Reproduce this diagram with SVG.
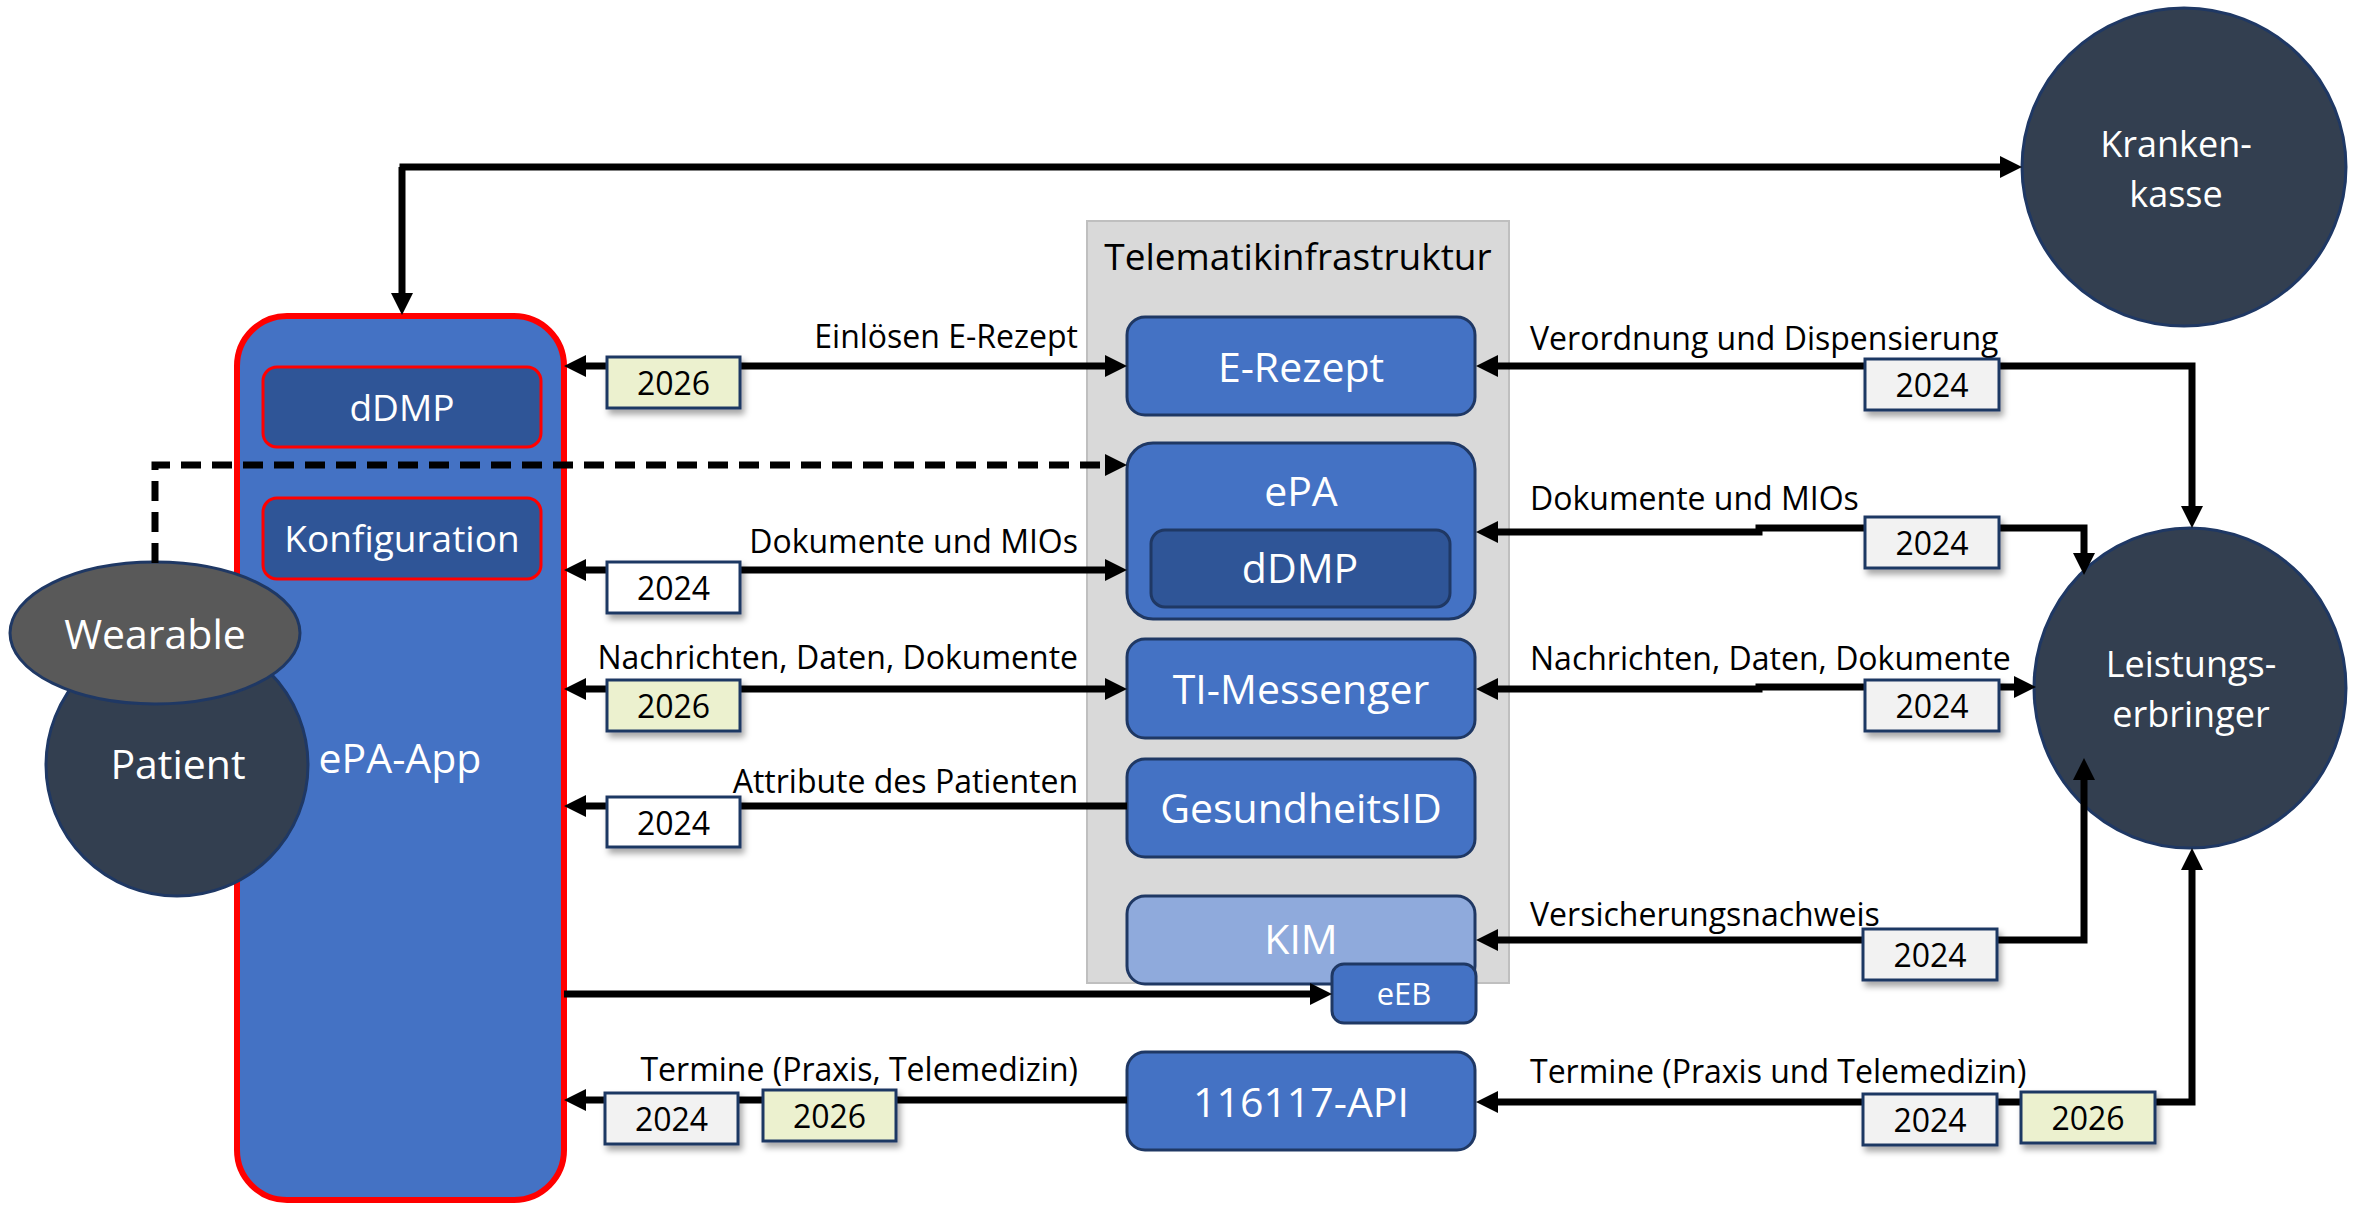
<svg xmlns="http://www.w3.org/2000/svg" width="2354" height="1205" viewBox="0 0 2354 1205">
  <defs>
    <style>
      .t { font-family: "Open Sans", "Noto Sans", "Liberation Sans", sans-serif; }
      .wl { fill: #FFFFFF; text-anchor: middle; }
      .box { fill: #4472C4; stroke: #1F3864; stroke-width: 3; }
      .sub { fill: #2F5597; stroke: #1F3864; stroke-width: 3; }
      .appsub { fill: #2F5597; stroke: #FF0000; stroke-width: 3; }
      .actor { fill: #333F50; stroke: #1F3864; stroke-width: 3; }
      .lbl { fill: #000000; font-size: 32px; }
      .lbl-l { text-anchor: end; }
      .lbl-r { text-anchor: start; }
      .line { fill: none; stroke: #000000; stroke-width: 7; stroke-linejoin: miter; }
      .badge { stroke: #1F3864; stroke-width: 3; filter: url(#shadow); }
      .b24 { fill: #F2F2F2; }
      .b24w { fill: #FFFFFF; }
      .b26 { fill: #ECF1CF; }
      .btxt { fill: #000000; font-size: 32px; text-anchor: middle; }
    </style>
    <marker id="ah" markerUnits="userSpaceOnUse" markerWidth="24" markerHeight="24" refX="0" refY="12" orient="auto-start-reverse" overflow="visible">
      <path d="M0,1 L22,12 L0,23 Z" fill="#000000"/>
    </marker>
    <filter id="shadow" x="-20%" y="-30%" width="150%" height="170%">
      <feDropShadow dx="3" dy="5" stdDeviation="3" flood-color="#000000" flood-opacity="0.35"/>
    </filter>
  </defs>

  <rect width="2354" height="1205" fill="#FFFFFF"/>

  <!-- Telematikinfrastruktur container -->
  <g id="ti">
    <rect x="1087" y="221" width="422" height="762" fill="#D9D9D9" stroke="#BFBFBF" stroke-width="2"/>
    <text class="t" x="1298" y="270" font-size="37" text-anchor="middle" fill="#000000">Telematikinfrastruktur</text>
  </g>

  <!-- ePA-App -->
  <g id="epa-app">
    <rect x="237" y="316" width="327" height="884" rx="50" fill="#4472C4" stroke="#FF0000" stroke-width="6"/>
    <text class="t wl" x="400" y="773" font-size="41">ePA-App</text>
  </g>
  <g id="app-ddmp">
    <rect class="appsub" x="263" y="367" width="278" height="80" rx="14"/>
    <text class="t wl" x="402" y="421" font-size="37">dDMP</text>
  </g>
  <g id="app-konfiguration">
    <rect class="appsub" x="263" y="498" width="278" height="81" rx="14"/>
    <text class="t wl" x="402" y="552" font-size="37">Konfiguration</text>
  </g>

  <!-- Patient and Wearable -->
  <g id="patient">
    <circle class="actor" cx="177" cy="765" r="131"/>
    <text class="t wl" x="178" y="779" font-size="41">Patient</text>
  </g>
  <g id="wearable">
    <ellipse cx="155" cy="633" rx="145" ry="71" fill="#595959" stroke="#1F3864" stroke-width="3"/>
    <text class="t wl" x="155" y="649" font-size="41">Wearable</text>
  </g>

  <!-- TI services -->
  <g id="e-rezept">
    <rect class="box" x="1127" y="317" width="348" height="98" rx="18"/>
    <text class="t wl" x="1301" y="382" font-size="41">E-Rezept</text>
  </g>
  <g id="epa">
    <rect class="box" x="1127" y="443" width="348" height="176" rx="26"/>
    <text class="t wl" x="1301" y="506" font-size="41">ePA</text>
  </g>
  <g id="epa-ddmp">
    <rect class="sub" x="1151" y="530" width="299" height="77" rx="14"/>
    <text class="t wl" x="1300" y="583" font-size="41">dDMP</text>
  </g>
  <g id="ti-messenger">
    <rect class="box" x="1127" y="639" width="348" height="99" rx="18"/>
    <text class="t wl" x="1301" y="704" font-size="41">TI-Messenger</text>
  </g>
  <g id="gesundheitsid">
    <rect class="box" x="1127" y="759" width="348" height="98" rx="18"/>
    <text class="t wl" x="1301" y="823" font-size="41">GesundheitsID</text>
  </g>
  <g id="kim">
    <rect x="1127" y="896" width="348" height="88" rx="18" fill="#8FAADC" stroke="#1F3864" stroke-width="3"/>
    <text class="t wl" x="1301" y="954" font-size="41">KIM</text>
  </g>
  <g id="eeb">
    <rect class="box" x="1332" y="964" width="144" height="59" rx="12"/>
    <text class="t wl" x="1404" y="1005" font-size="31">eEB</text>
  </g>
  <g id="api-116117">
    <rect class="box" x="1127" y="1052" width="348" height="98" rx="18"/>
    <text class="t wl" x="1301" y="1117" font-size="41">116117-API</text>
  </g>

  <!-- Krankenkasse and Leistungserbringer -->
  <g id="krankenkasse">
    <ellipse class="actor" cx="2184" cy="167" rx="162" ry="159"/>
    <text class="t wl" x="2176" y="157" font-size="36">Kranken-</text>
    <text class="t wl" x="2176" y="207" font-size="36">kasse</text>
  </g>
  <g id="leistungserbringer">
    <ellipse class="actor" cx="2190" cy="688" rx="156" ry="160"/>
    <text class="t wl" x="2191" y="677" font-size="36">Leistungs-</text>
    <text class="t wl" x="2191" y="727" font-size="36">erbringer</text>
  </g>

  <!-- Connectors -->
  <g id="connectors">
    <!-- Krankenkasse <-> ePA-App -->
    <path class="line" d="M402,167 L402,293" stroke-width="5" marker-end="url(#ah)"/>
    <path class="line" d="M399.5,167 L2000,167" stroke-width="8" marker-end="url(#ah)"/>

    <!-- ePA-App side -->
    <path class="line" d="M586,366 L1105,366" marker-start="url(#ah)" marker-end="url(#ah)"/>
    <path class="line" d="M155,563 L155,465 L1105,465" stroke-width="8" stroke-dasharray="20 11" marker-end="url(#ah)"/>
    <path class="line" d="M586,570 L1105,570" marker-start="url(#ah)" marker-end="url(#ah)"/>
    <path class="line" d="M586,689 L1105,689" marker-start="url(#ah)" marker-end="url(#ah)"/>
    <path class="line" d="M1127,806 L586,806" marker-end="url(#ah)"/>
    <path class="line" d="M564,994 L1310,994" marker-end="url(#ah)"/>
    <path class="line" d="M1127,1100 L586,1100" marker-end="url(#ah)"/>

    <!-- Leistungserbringer side -->
    <path class="line" d="M1498,366 L2192,366 L2192,506" marker-start="url(#ah)" marker-end="url(#ah)"/>
    <path class="line" d="M1498,532 L1759,532 L1759,528 L2084,528 L2084,553" marker-start="url(#ah)" marker-end="url(#ah)"/>
    <path class="line" d="M1498,689 L1759,689 L1759,687 L2014,687" marker-start="url(#ah)" marker-end="url(#ah)"/>
    <path class="line" d="M2084,780 L2084,940 L1498,940" marker-start="url(#ah)" marker-end="url(#ah)"/>
    <path class="line" d="M2192,870 L2192,1102 L1498,1102" marker-start="url(#ah)" marker-end="url(#ah)"/>

    <!-- Connector labels -->
    <text class="t lbl lbl-l" x="1078" y="348">Einlösen E-Rezept</text>
    <text class="t lbl lbl-l" x="1078" y="553">Dokumente und MIOs</text>
    <text class="t lbl lbl-l" x="1078" y="669">Nachrichten, Daten, Dokumente</text>
    <text class="t lbl lbl-l" x="1078" y="793">Attribute des Patienten</text>
    <text class="t lbl lbl-l" x="1078" y="1081">Termine (Praxis, Telemedizin)</text>

    <text class="t lbl lbl-r" x="1530" y="350">Verordnung und Dispensierung</text>
    <text class="t lbl lbl-r" x="1530" y="510">Dokumente und MIOs</text>
    <text class="t lbl lbl-r" x="1530" y="670">Nachrichten, Daten, Dokumente</text>
    <text class="t lbl lbl-r" x="1530" y="926">Versicherungsnachweis</text>
    <text class="t lbl lbl-r" x="1530" y="1083">Termine (Praxis und Telemedizin)</text>

    <!-- Year badges -->
    <rect class="badge b26" x="607" y="357" width="133" height="51"/>
    <text class="t btxt" x="673.5" y="395">2026</text>
    <rect class="badge b24w" x="607" y="562" width="133" height="51"/>
    <text class="t btxt" x="673.5" y="600">2024</text>
    <rect class="badge b26" x="607" y="680" width="133" height="51"/>
    <text class="t btxt" x="673.5" y="718">2026</text>
    <rect class="badge b24w" x="607" y="797" width="133" height="50"/>
    <text class="t btxt" x="673.5" y="835">2024</text>
    <rect class="badge b24" x="605" y="1093" width="133" height="51"/>
    <text class="t btxt" x="671.5" y="1131">2024</text>
    <rect class="badge b26" x="763" y="1090" width="133" height="51"/>
    <text class="t btxt" x="829.5" y="1128">2026</text>

    <rect class="badge b24" x="1865" y="359" width="134" height="51"/>
    <text class="t btxt" x="1932" y="397">2024</text>
    <rect class="badge b24" x="1865" y="517" width="134" height="51"/>
    <text class="t btxt" x="1932" y="555">2024</text>
    <rect class="badge b24" x="1865" y="680" width="134" height="51"/>
    <text class="t btxt" x="1932" y="718">2024</text>
    <rect class="badge b24" x="1863" y="929" width="134" height="51"/>
    <text class="t btxt" x="1930" y="967">2024</text>
    <rect class="badge b24" x="1863" y="1094" width="134" height="51"/>
    <text class="t btxt" x="1930" y="1132">2024</text>
    <rect class="badge b26" x="2021" y="1092" width="134" height="51"/>
    <text class="t btxt" x="2088" y="1130">2026</text>
  </g>
</svg>
